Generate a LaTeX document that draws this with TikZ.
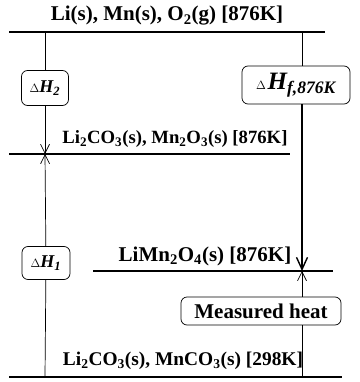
\documentclass[tikz,border=0pt]{standalone}
\usepackage{fontspec}
\setmainfont{Liberation Serif}
\usetikzlibrary{arrows.meta,positioning}
\tikzset{
  level/.style={line width=2pt},
  species/.style={inner sep=0pt, font=\bfseries},
  dhbox/.style={draw, rounded corners=6pt, line width=0.7pt, inner sep=2pt, align=center},
  link/.style={line width=0.7pt},
  barb/.style={link, -{Straight Barb[length=9pt,width=9pt,line width=0.7pt]}},
  bigbarb/.style={line width=1.4pt, -{Straight Barb[length=12pt,width=11pt,line width=1.4pt]}}
}
\newcommand{\fs}[1]{\fontsize{#1}{#1}\selectfont}

\begin{document}
\begin{tikzpicture}[x=1pt,y=-1pt]
  \useasboundingbox (0,0) rectangle (359,382);
  % energy levels
  \coordinate (top-l) at (9,32);   \coordinate (top-r) at (325,32);
  \coordinate (mid-l) at (9,154);  \coordinate (mid-r) at (290,154);
  \coordinate (spl-l) at (93,271); \coordinate (spl-r) at (333,271);
  \coordinate (bot-l) at (9,377);  \coordinate (bot-r) at (342,377);
  \draw[level] (top-l) -- (top-r);
  \draw[level] (mid-l) -- (mid-r);
  \draw[level] (spl-l) -- (spl-r);
  \draw[level] (bot-l) -- (bot-r);
  % level labels
  \node[species, font=\fs{21}\bfseries] (elements) at (167,16) {Li(s), Mn(s), O\textsubscript{2}(g) [876K]};
  \node[species, font=\fs{18.7}\bfseries] (oxides) at (175,139) {Li\textsubscript{2}CO\textsubscript{3}(s), Mn\textsubscript{2}O\textsubscript{3}(s) [876K]};
  \node[species, font=\fs{21}\bfseries] (spinel) at (205,256) {LiMn\textsubscript{2}O\textsubscript{4}(s) [876K]};
  \node[species, font=\fs{19.4}\bfseries] (carbonates) at (183,361) {Li\textsubscript{2}CO\textsubscript{3}(s), MnCO\textsubscript{3}(s) [298K]};
  % enthalpy boxes
  \node[dhbox, minimum width=47pt, minimum height=35pt] (dh2) at (45,88) {{\fs{12}$\Delta$}\textbf{\textit{\fs{18}H\textsubscript{2}}}};
  \node[dhbox, minimum width=48pt, minimum height=33pt] (dh1) at (46,263) {{\fs{12}$\Delta$}\textbf{\textit{\fs{18}H\textsubscript{1}}}};
  \node[dhbox, minimum width=108pt, minimum height=38pt] (dhf) at (296,85) {{\fs{12}$\Delta$}\,\textbf{\textit{\fs{25}H\textsubscript{f,876K}}}};
  \node[dhbox, minimum width=160pt, minimum height=28pt, font=\fs{21}\bfseries] (heat) at (261,311) {Measured heat};
  % connectors
  \coordinate (l-top) at (45,32);  \coordinate (l-mid) at (45,154);  \coordinate (l-bot) at (45,377);
  \coordinate (r-top) at (302,32); \coordinate (r-spl) at (302,271); \coordinate (r-bot) at (302,377);
  \draw[link] (l-top) -- (dh2);
  \draw[barb] (dh2) -- (l-mid);
  \draw[link] (l-bot) -- (dh1);
  \draw[barb] (dh1) -- (l-mid);
  \draw[link] (r-top) -- (r-top |- dhf.north);
  \draw[bigbarb] (r-top |- dhf.south) -- (r-spl);
  \draw[link] (r-bot) -- (r-bot |- heat.south);
  \draw[barb] (r-bot |- heat.north) -- (r-spl);
\end{tikzpicture}
\end{document}
